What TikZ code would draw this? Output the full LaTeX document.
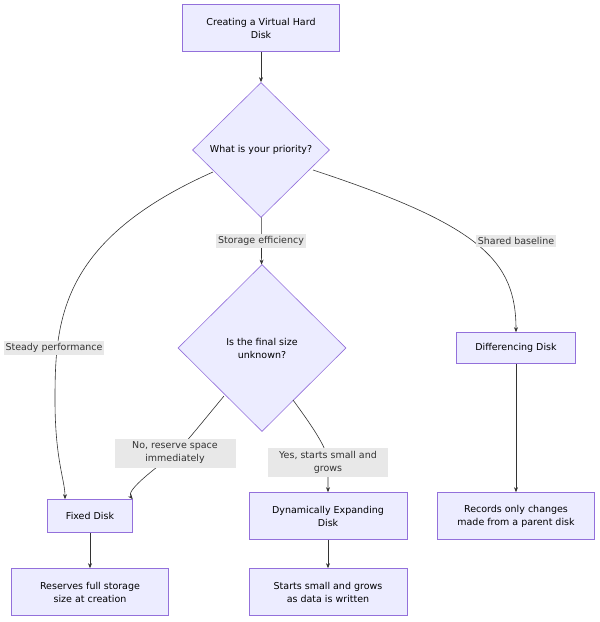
\documentclass[tikz,border=0pt]{standalone}
\usepackage{fontspec}
\setmainfont{DejaVu Sans}
\usetikzlibrary{shapes.geometric,arrows.meta}
\definecolor{nfill}{HTML}{ECECFF}
\definecolor{nline}{HTML}{9370DB}
\definecolor{eline}{HTML}{333333}
\definecolor{lbg}{HTML}{E8E8E8}
\begin{document}
\begin{tikzpicture}[x=1pt,y=-1pt,font=\fontsize{9.5}{13}\selectfont,
  box/.style={draw=nline,fill=nfill,line width=0.6pt,align=center,inner sep=0},
  dia/.style={draw=nline,fill=nfill,line width=0.6pt,align=center,diamond,inner sep=0},
  lab/.style={fill=lbg,align=center,inner sep=2pt,text=eline},
  edge/.style={draw=eline,line width=0.6pt,-{Stealth[length=5pt,width=4pt]}}]
\useasboundingbox (0,0) rectangle (600,622);
\node[box,minimum width=157,minimum height=47] (start) at (261,28) {Creating a Virtual Hard\\Disk};
\node[dia,minimum width=137,minimum height=135] (d1) at (261,150) {What is your priority?};
\node[dia,minimum width=168,minimum height=167] (d2) at (262,348) {Is the final size\\unknown?};
\node[box,minimum width=119,minimum height=31] (diff) at (516,348) {Differencing Disk};
\node[box,minimum width=85,minimum height=33] (fixed) at (90,516) {Fixed Disk};
\node[box,minimum width=158,minimum height=47] (dyn) at (328,516) {Dynamically Expanding\\Disk};
\node[box,minimum width=157,minimum height=47] (rec) at (516,516) {Records only changes\\made from a parent disk};
\node[box,minimum width=157,minimum height=47] (res) at (90,592) {Reserves full storage\\size at creation};
\node[box,minimum width=158,minimum height=47] (small) at (328,592) {Starts small and grows\\as data is written};
\coordinate (a1) at (213,172);
\coordinate (a2) at (313,170);
\coordinate (a3) at (224,396);
\coordinate (a4) at (293,400);
\draw[edge] (start) -- (d1);
\draw[edge] (d1) -- (d2);
\draw[edge] (a1) .. controls (60,240) and (55,320) .. (55,400) .. controls (55,460) and (65,480) .. (fixed.north west -| 65,0);
\draw[edge] (a2) .. controls (480,225) and (516,260) .. (diff.north);
\draw[edge] (a3) .. controls (200,425) and (180,450) .. (175,453) .. controls (160,465) and (125,490) .. (fixed.north east);
\draw[edge] (a4) .. controls (315,430) and (328,450) .. (328,462) -- (dyn.north);
\draw[edge] (diff) -- (rec);
\draw[edge] (fixed) -- (res);
\draw[edge] (dyn) -- (small);
\node[lab] (l1) at (261,241) {Storage efficiency};
\node[lab] (l2) at (516,241) {Shared baseline};
\node[lab] (l3) at (54,348) {Steady performance};
\node[lab,minimum width=121,minimum height=29] (l4) at (175,453) {No, reserve space\\immediately};
\node[lab,minimum width=120,minimum height=29] (l5) at (328,462) {Yes, starts small and\\grows};
\end{tikzpicture}
\end{document}
